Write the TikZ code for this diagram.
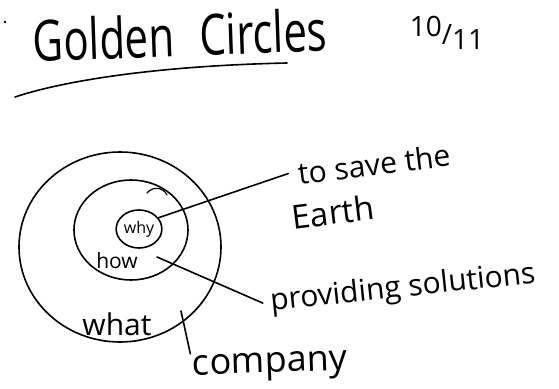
\documentclass[tikz,border=0pt]{standalone}
\usepackage{fontspec}
\setmainfont{Open Sans}
\usetikzlibrary{shapes.geometric}

\begin{document}
\begin{tikzpicture}[x=1pt,y=1pt,line width=1.6pt,line cap=round,
  ring/.style={draw,ellipse,inner sep=0pt},
  hand/.style={inner sep=1pt,font=\fontsize{#1}{#1}\selectfont}]
\useasboundingbox (0,0) rectangle (559,388);
% heading, underline and date
\fill (5,366) circle (1.3);
\node[hand=42,rotate=2,yscale=1.35,transform shape] (title) at (180,353) {Golden\hspace{0.6em}Circles};
\draw (15,291) .. controls (60,306) and (150,322) .. (287,325);
\node[hand=28] (date) at (447,355) {\raisebox{0.55ex}{10}/\raisebox{-0.35ex}{11}};
% the three rings, outside in
\node[ring,minimum width=202,minimum height=190] (what ring) at (120,141) {};
\node[ring,minimum width=114,minimum height=100] (how ring) at (131,158) {};
\node[ring,minimum width=42,minimum height=38,hand=16] (why) at (139,159) {why};
\draw[line width=1.2pt] (147,195) .. controls (153,202) and (163,201) .. (167,193);
\node[hand=21] (how) at (117,127) {how};
\node[hand=30] (what) at (117,64) {what};
% answers
\node[hand=30,rotate=7] (save) at (374,224) {to save the};
\node[hand=33,rotate=7] (earth) at (333,176) {Earth};
\node[hand=30,rotate=6] (solutions) at (403,99) {providing solutions};
\node[hand=36,rotate=2] (company) at (270,21) {company};
\coordinate (how tip) at (157,131);
\coordinate (what tip) at (181,77);
\draw (why.30) -- ([xshift=-8pt]save.west);
\draw (how tip) -- ([xshift=-6pt]solutions.west);
\draw (what tip) -- (company.north west);
\end{tikzpicture}
\end{document}
